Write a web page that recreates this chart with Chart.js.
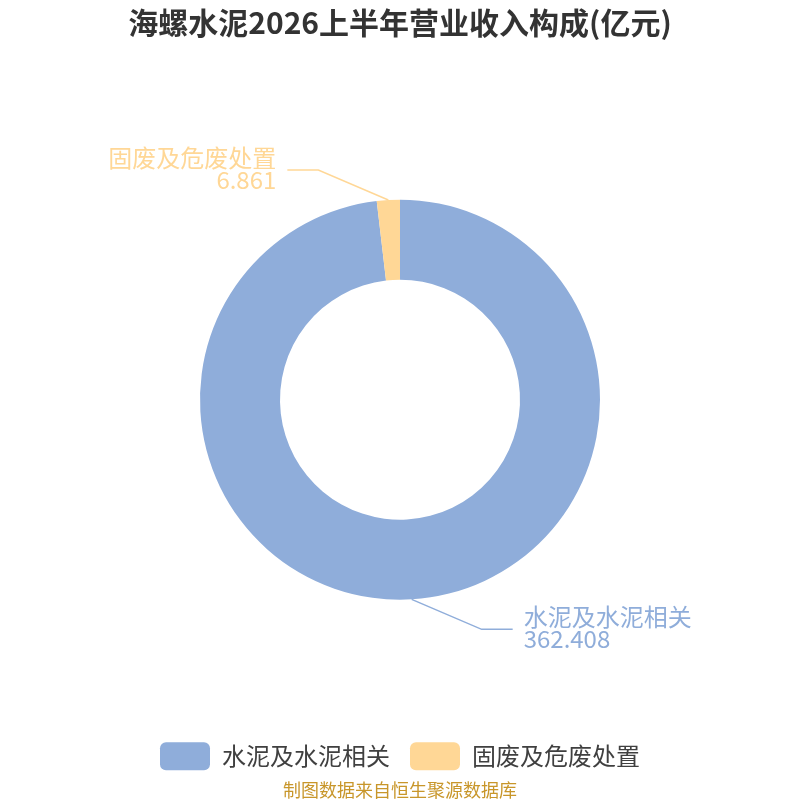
<!DOCTYPE html>
<html>
<head>
<meta charset="utf-8">
<script src="https://cdn.jsdelivr.net/npm/chart.js@4.4.1/dist/chart.umd.min.js"></script>
<style>
html,body{margin:0;padding:0;background:#fff;}
#wrap{width:800px;height:800px;position:relative;}
</style>
</head>
<body>
<div id="wrap"><canvas id="c" width="800" height="800"></canvas></div>
<script>
const titleText = '海螺水泥2026上半年营业收入构成(亿元)';
const footerText = '制图数据来自恒生聚源数据库';
const categories = ['水泥及水泥相关', '固废及危废处置'];
const values = [362.408, 6.861];
const valueLabels = ['362.408', '6.861'];
const colors = ['#8fadda', '#ffd796'];

const FONT = '"Noto Sans CJK SC", "Noto Sans", sans-serif';

const leaderPlugin = {
  id: 'leaderLabels',
  afterDatasetsDraw(chart) {
    const ctx = chart.ctx;
    const meta = chart.getDatasetMeta(0);
    meta.data.forEach((arc, i) => {
      const mid = (arc.startAngle + arc.endAngle) / 2;
      const r = arc.outerRadius;
      const ex = arc.x + Math.cos(mid) * r;
      const ey = arc.y + Math.sin(mid) * r;
      const sx = Math.cos(mid) >= 0 ? 1 : -1;
      const sy = Math.sin(mid) >= 0 ? 1 : -1;
      const bx = ex + sx * 70;
      const by = ey + sy * 30;
      const hx = bx + sx * 31;
      ctx.save();
      ctx.strokeStyle = colors[i];
      ctx.lineWidth = 1.5;
      ctx.beginPath();
      ctx.moveTo(ex, ey);
      ctx.lineTo(bx, by);
      ctx.lineTo(hx, by);
      ctx.stroke();
      ctx.fillStyle = colors[i];
      ctx.font = '24px ' + FONT;
      ctx.textAlign = sx > 0 ? 'left' : 'right';
      ctx.textBaseline = 'middle';
      const tx = hx + sx * 11;
      ctx.fillText(categories[i], tx, by - 12);
      ctx.fillText(valueLabels[i], tx, by + 10);
      ctx.restore();
    });
  }
};

new Chart(document.getElementById('c'), {
  type: 'doughnut',
  data: {
    labels: categories,
    datasets: [{
      data: values,
      backgroundColor: colors,
      hoverBackgroundColor: colors,
      borderWidth: 0,
      radius: 200
    }]
  },
  options: {
    responsive: false,
    animation: false,
    cutout: '60%',
    rotation: 0,
    layout: { padding: 0 },
    plugins: {
      title: {
        display: true,
        text: titleText,
        color: '#333333',
        font: { family: FONT, size: 30, weight: 'bold', lineHeight: 1.24 },
        padding: { top: 4, bottom: 36 }
      },
      subtitle: {
        display: true,
        position: 'bottom',
        text: footerText,
        color: '#c8962a',
        font: { family: FONT, size: 18, lineHeight: 1.1 },
        padding: { top: 0, bottom: 0 }
      },
      legend: {
        position: 'bottom',
        labels: {
          boxWidth: 50,
          boxHeight: 28,
          useBorderRadius: true,
          borderRadius: 6,
          color: '#404040',
          font: { family: FONT, size: 24 },
          padding: 20
        }
      },
      tooltip: { enabled: false }
    }
  },
  plugins: [leaderPlugin]
});
</script>
</body>
</html>
